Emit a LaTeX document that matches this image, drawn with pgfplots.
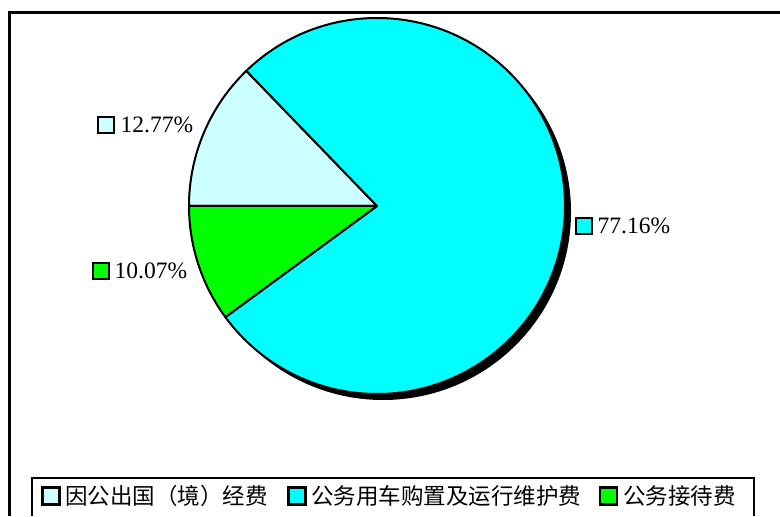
\documentclass[border=0pt]{standalone}
\usepackage{pgfplots}
\pgfplotsset{compat=1.18}
\usepackage{pgfplotstable}
\usepackage{fontspec}
\setmainfont{Liberation Serif}
\newfontfamily\cjk{Noto Sans CJK SC}
\definecolor{lcyan}{HTML}{CCFFFF}
\definecolor{pcyan}{HTML}{00FFFF}
\definecolor{pgreen}{HTML}{00FF00}

\pgfplotstableread{
share
12.77
77.16
10.07
}\piedata

\begin{document}
\begin{tikzpicture}
\pgfplotstablegetelem{0}{share}\of\piedata \edef\va{\pgfplotsretval}
\pgfplotstablegetelem{1}{share}\of\piedata \edef\vb{\pgfplotsretval}
\pgfplotstablegetelem{2}{share}\of\piedata \edef\vc{\pgfplotsretval}
\pgfmathsetmacro\aZ{180}
\pgfmathsetmacro\aA{180-3.6*\va}
\pgfmathsetmacro\aB{\aA-3.6*\vb}
\pgfmathsetmacro\aC{\aB-3.6*\vc}
\begin{axis}[hide axis, scale only axis, width=780bp, height=516bp,
  xmin=0, xmax=780, ymin=0, ymax=516]
% frame
\draw[black, line width=2.8bp] (axis cs:9.5,0) -- (axis cs:9.5,503.5) -- (axis cs:780,503.5);
% shadow
\fill[black] (axis cs:383,304) circle[radius=188bp];
% wedges
\filldraw[fill=lcyan, draw=black, line width=2bp, line join=round] (axis cs:377,310) -- ++(\aZ:188bp) arc[start angle=\aZ, end angle=\aA, radius=188bp] -- cycle;
\filldraw[fill=pcyan, draw=black, line width=2bp, line join=round] (axis cs:377,310) -- ++(\aA:188bp) arc[start angle=\aA, end angle=\aB, radius=188bp] -- cycle;
\filldraw[fill=pgreen, draw=black, line width=2bp, line join=round] (axis cs:377,310) -- ++(\aB:188bp) arc[start angle=\aB, end angle=\aC, radius=188bp] -- cycle;
% data labels
\node[draw=black, line width=2bp, fill=lcyan, minimum size=16bp, inner sep=0pt] at (axis cs:106,391) {};
\node[anchor=west, inner sep=0pt, font=\fontsize{23.5bp}{28bp}\selectfont] at (axis cs:120.5,391) {\va\%};
\node[draw=black, line width=2bp, fill=pcyan, minimum size=16bp, inner sep=0pt] at (axis cs:584,290) {};
\node[anchor=west, inner sep=0pt, font=\fontsize{23.5bp}{28bp}\selectfont] at (axis cs:597.5,290) {\vb\%};
\node[draw=black, line width=2bp, fill=pgreen, minimum size=16bp, inner sep=0pt] at (axis cs:101,245) {};
\node[anchor=west, inner sep=0pt, font=\fontsize{23.5bp}{28bp}\selectfont] at (axis cs:114.5,245) {\vc\%};
% legend box
\draw[black, line width=1.6bp] (axis cs:32,0) -- (axis cs:32,38) -- (axis cs:754,38) -- (axis cs:754,0);
\node[draw=black, line width=2.2bp, fill=lcyan, minimum size=17bp, inner sep=0pt] at (axis cs:51,20) {};
\node[anchor=west, inner sep=0pt, font=\fontsize{22.5bp}{27bp}\cjk] at (axis cs:65,20) {因公出国（境）经费};
\node[draw=black, line width=2.2bp, fill=pcyan, minimum size=17bp, inner sep=0pt] at (axis cs:297,20) {};
\node[anchor=west, inner sep=0pt, font=\fontsize{22.5bp}{27bp}\cjk] at (axis cs:311,20) {公务用车购置及运行维护费};
\node[draw=black, line width=2.2bp, fill=pgreen, minimum size=17bp, inner sep=0pt] at (axis cs:608.5,20) {};
\node[anchor=west, inner sep=0pt, font=\fontsize{22.5bp}{27bp}\cjk] at (axis cs:623,20) {公务接待费};
\end{axis}
\pgfresetboundingbox
\path[use as bounding box] (current axis.south west) rectangle (current axis.north east);
\end{tikzpicture}
\end{document}
